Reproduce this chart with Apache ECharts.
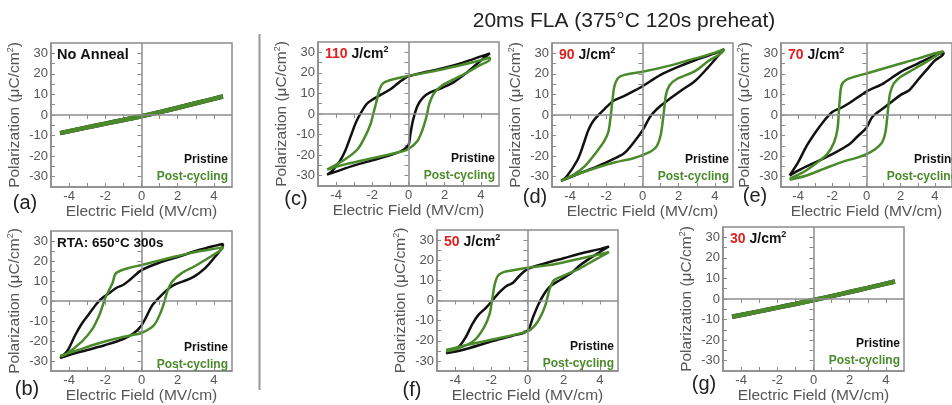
<!DOCTYPE html>
<html>
<head>
<meta charset="utf-8">
<script src="https://cdn.jsdelivr.net/npm/echarts@6/dist/echarts.min.js"></script>
<style>
html,body{margin:0;padding:0;background:#fff;}
#chart{width:952px;height:405px;}
</style>
</head>
<body>
<div id="chart"></div>
<script>
// tick values
var xLabels = [-4, -2, 0, 2, 4];
var xTicks = [-4, -3, -2, -1, 0, 1, 2, 3, 4];
var yLabels = [-30, -20, -10, 0, 10, 20, 30];
var yTicks = [-30, -25, -20, -15, -10, -5, 0, 5, 10, 15, 20, 25, 30];

// (a) no anneal - linear, both curves overlap
var aPristine = [[-4.5,-8.8],[-3,-6],[-2,-4.2],[-1,-2.4],[0,-0.6],[1,1.4],[2,3.5],[3,5.7],[4.5,9]];
var aPost = [[-4.5,-8.8],[-3,-6],[-2,-4.2],[-1,-2.4],[0,-0.6],[1,1.4],[2,3.5],[3,5.7],[4.5,9]];

// (b) RTA 650C 300s
var bPriLow = [[-4.5,-28.5],[-4,-27],[-3,-24.5],[-2,-22],[-1,-19],[-0.45,-16.3],[0,-12.2],[0.3,-7.3],[0.58,-2.4],[0.96,1.6],[1.43,5.7],[1.8,8.1],[2.3,9.8],[2.9,12.2],[3.5,16.3],[4.05,22],[4.5,28]];
var bPriUp = [[4.5,28.5],[4,27.5],[3,25],[2,22],[1,19.2],[0,15.4],[-0.64,10.6],[-1,8.1],[-1.4,6.5],[-1.77,4],[-2.15,1.6],[-2.5,-1.6],[-2.9,-6.5],[-3.3,-11.4],[-3.66,-17],[-4.1,-25],[-4.5,-28.5]];
var bPostLow = [[-4.5,-27.5],[-3.5,-24.5],[-2.5,-21.5],[-1.5,-19],[-0.5,-17],[0,-16],[0.68,-12.2],[1.06,-5.7],[1.25,-0.8],[1.43,4.9],[1.7,9.8],[2.2,13.8],[2.96,17.5],[4.07,23.6],[4.5,26.8]];
var bPostUp = [[4.5,27],[3,24.5],[2,22.5],[1,20.3],[0,18],[-0.7,16.5],[-1.2,15],[-1.45,13.5],[-1.6,9],[-1.96,2.4],[-2.15,-2.4],[-2.34,-7.3],[-2.7,-13.8],[-3.3,-20.3],[-4.2,-26.8],[-4.5,-27.6]];

// (c) 110 J/cm2
var cPriLow = [[-4.5,-29.5],[-4,-28],[-3,-25],[-2,-22.5],[-1,-20],[-0.4,-18],[0,-15],[0.1,-10],[0.25,-3],[0.5,4],[0.8,8],[1.2,10.5],[1.8,12.5],[2.5,15.5],[3.2,20],[4,26],[4.5,29.5]];
var cPriUp = [[4.5,29.5],[4,28],[3,25],[2,22.5],[1,20.5],[0,18.3],[-0.5,15.5],[-1,12],[-1.5,9.5],[-2,7],[-2.3,5],[-2.6,1],[-2.9,-4],[-3.2,-11],[-3.5,-18],[-3.8,-23],[-4.2,-27.5],[-4.5,-29.5]];
var cPostLow = [[-4.5,-27],[-3.5,-24.5],[-2.5,-22.5],[-1.5,-20.5],[-0.5,-18.5],[0,-17],[0.5,-13],[0.8,-7],[1,-1],[1.15,5],[1.4,10],[1.8,13.5],[2.3,16],[3,19],[4,24],[4.5,26.5]];
var cPostUp = [[4.5,27.5],[3.5,25],[2.5,23],[1.5,21],[0,18.5],[-1,16.5],[-1.4,15],[-1.6,12],[-1.8,5],[-1.95,0],[-2.1,-5],[-2.4,-11],[-2.8,-17],[-3.5,-22],[-4.5,-27]];

// (d) 90 J/cm2
var dPriLow = [[-4.5,-32],[-3.5,-28.5],[-2.5,-25],[-1.5,-21],[-1,-18.5],[-0.5,-13.5],[0,-7.5],[0.45,-0.5],[1,4.5],[1.6,8.5],[2.1,11.7],[2.9,16.5],[3.6,22.9],[4.1,28],[4.5,32]];
var dPriUp = [[4.5,32],[4,30],[3,27],[2,23.5],[1,19.5],[0,14],[-0.47,11.7],[-1,9.3],[-1.6,6.9],[-2.1,2.9],[-2.7,-2.7],[-3,-7.5],[-3.25,-14],[-3.6,-22],[-4.2,-30],[-4.5,-32]];
var dPostLow = [[-4.5,-32],[-3.5,-28.5],[-2.5,-25.5],[-1.5,-23],[-0.5,-21],[0,-19.5],[0.5,-17.5],[0.8,-15],[1,-10],[1.12,-3],[1.2,3],[1.3,10],[1.5,14.5],[1.9,17.5],[2.9,21.3],[3.6,26],[4.5,31.7]];
var dPostUp = [[4.5,32],[3.5,29],[2.5,26.5],[1.5,24],[0,21],[-1,19.5],[-1.35,18],[-1.55,14],[-1.65,8],[-1.75,0],[-1.88,-8],[-2.1,-12.5],[-2.5,-17.5],[-3.2,-25],[-3.8,-29],[-4.5,-32]];

// (e) 70 J/cm2
var ePriLow = [[-4.5,-29.5],[-4,-27],[-3,-23],[-2,-19],[-1,-14.2],[-0.5,-10.2],[0,-6.2],[0.3,-1.4],[0.6,1],[1,3.4],[1.5,6.6],[2,9.8],[2.5,12],[3,17],[3.5,21.8],[4,26.5],[4.5,29.8]];
var ePriUp = [[4.5,30.5],[4,29],[3,25],[2,21],[1,15.4],[0,11.4],[-1,5.8],[-1.5,3.4],[-2,1.5],[-2.5,-3],[-3,-8.6],[-3.5,-15],[-4,-23],[-4.5,-29.4]];
var ePostLow = [[-4.5,-31.5],[-3.5,-29.4],[-2.5,-26.2],[-1.5,-23],[-0.5,-20.6],[0,-19],[0.5,-16.6],[0.9,-13.4],[1.1,-8.6],[1.2,-2.2],[1.28,4.2],[1.38,10.6],[1.6,15.4],[2,18.6],[2.5,21],[3.5,25.8],[4.5,31]];
var ePostUp = [[4.5,31],[4,30],[3,27.4],[2,25],[1,22.6],[0,20.2],[-0.7,18.6],[-1.2,17],[-1.45,14.6],[-1.55,9],[-1.62,1],[-1.7,-7],[-1.9,-13.4],[-2.3,-19],[-3,-23.8],[-3.7,-27.8],[-4.5,-31]];

// (f) 50 J/cm2
var fPriLow = [[-4.5,-26.2],[-3.6,-24.6],[-2.1,-20.6],[-0.8,-17.4],[0,-15],[0.3,-8.4],[0.6,-2],[0.9,3],[1.25,7],[1.8,10.2],[2.4,13.5],[2.9,17.5],[3.7,22.4],[4.5,26.8]];
var fPriUp = [[4.5,26.5],[4,25.5],[3,23.5],[2,21],[1,18.5],[0,15.6],[-0.43,12.4],[-0.8,8.8],[-1.2,7],[-1.55,4],[-1.9,0.5],[-2.3,-3.7],[-2.7,-7],[-3.05,-11.7],[-3.4,-18],[-3.8,-23],[-4.5,-26.2]];
var fPostLow = [[-4.5,-24.6],[-3.4,-22.2],[-1.73,-19],[0,-15.3],[0.4,-12.5],[0.7,-8.4],[1,-2],[1.2,5],[1.45,10],[1.9,12],[2.9,16],[3.7,20],[4.5,24]];
var fPostUp = [[4.5,24],[3.5,22],[2.5,20],[1.5,18],[0,16.3],[-0.8,15],[-1.36,14],[-1.64,12.2],[-1.82,7.6],[-1.96,0],[-2.1,-6.9],[-2.4,-13.3],[-2.94,-19.8],[-3.8,-23.8],[-4.5,-25.2]];

// (g) 30 J/cm2 - linear
var gPristine = [[-4.5,-8.6],[-3,-6],[-2,-4.2],[-1,-2.4],[0,-0.5],[1,1.4],[2,3.4],[3,5.4],[4.5,8.5]];
var gPost = [[-4.5,-8.6],[-3,-6],[-2,-4.2],[-1,-2.4],[0,-0.5],[1,1.4],[2,3.4],[3,5.4],[4.5,8.5]];

var FONT = 'Liberation Sans, Arial, sans-serif';
var GREEN = '#4a8a2a';
var GRAY = '#8c8c8c';
var RED = '#e0201e';

var panels = [
    {left:51, top:43, pri:aPristine, post:aPost, lw:4.5, letter:'(a)', lx:25, ly:203, tag:'No Anneal', tagSize:14.5},
    {left:51, top:231, pri:bPriLow.concat(bPriUp), post:bPostLow.concat(bPostUp), lw:2.5, letter:'(b)', lx:27, ly:389, tag:'RTA: 650°C 300s', tagSize:13.5},
    {left:318, top:42, pri:cPriLow.concat(cPriUp), post:cPostLow.concat(cPostUp), lw:2.5, letter:'(c)', lx:296, ly:199, energy:'110'},
    {left:552, top:43, pri:dPriLow.concat(dPriUp), post:dPostLow.concat(dPostUp), lw:2.5, letter:'(d)', lx:535, ly:197, energy:'90'},
    {left:781, top:43, pri:ePriLow.concat(ePriUp), post:ePostLow.concat(ePostUp), lw:2.5, letter:'(e)', lx:755, ly:196, energy:'70'},
    {left:437, top:230, pri:fPriLow.concat(fPriUp), post:fPostLow.concat(fPostUp), lw:2.5, letter:'(f)', lx:412, ly:390, energy:'50'},
    {left:723, top:227, pri:gPristine, post:gPost, lw:4.5, letter:'(g)', lx:704, ly:384, energy:'30'}
];
var W = 181, H = 144;

var grids = [], xAxes = [], yAxes = [], series = [], graphics = [];

panels.forEach(function(p, i){
    grids.push({left:p.left, top:p.top, width:W, height:H, show:true, borderColor:GRAY, borderWidth:1.5, backgroundColor:'transparent'});
    xAxes.push({
        gridIndex:i, type:'value', min:-5, max:5, position:'bottom',
        name:'Electric Field (MV/cm)', nameLocation:'middle', nameGap:17,
        nameTextStyle:{fontFamily:FONT, fontSize:15.5, color:'#555'},
        axisLine:{show:true, onZero:false, lineStyle:{color:GRAY, width:1.5}},
        axisTick:{show:true, inside:true, length:4, customValues:xTicks, lineStyle:{color:GRAY, width:1}},
        axisLabel:{customValues:xLabels, fontFamily:FONT, fontSize:13, color:'#555', margin:3},
        splitLine:{show:false}
    });
    yAxes.push({
        gridIndex:i, type:'value', min:-35, max:35, position:'left',
        name:'Polarization (μC/cm{s|2})', nameLocation:'middle', nameGap:27,
        nameTextStyle:{fontFamily:FONT, fontSize:15.5, color:'#555', rich:{s:{fontFamily:FONT, fontSize:9, color:'#555', padding:[0,0,9,0]}}},
        axisLine:{show:true, onZero:false, lineStyle:{color:GRAY, width:1.5}},
        axisTick:{show:true, inside:true, length:4, customValues:yTicks, lineStyle:{color:GRAY, width:1}},
        axisLabel:{customValues:yLabels, fontFamily:FONT, fontSize:13, color:'#555', margin:3},
        splitLine:{show:false}
    });
});
// mirror axes for ticks on top and right
panels.forEach(function(p, i){
    xAxes.push({
        gridIndex:i, type:'value', min:-5, max:5, position:'top',
        axisLine:{show:false}, axisLabel:{show:false}, splitLine:{show:false},
        axisTick:{show:true, inside:true, length:4, customValues:xTicks, lineStyle:{color:GRAY, width:1}}
    });
    yAxes.push({
        gridIndex:i, type:'value', min:-35, max:35, position:'right',
        axisLine:{show:false}, axisLabel:{show:false}, splitLine:{show:false},
        axisTick:{show:true, inside:true, length:4, customValues:yTicks, lineStyle:{color:GRAY, width:1}}
    });
});

panels.forEach(function(p, i){
    series.push({
        type:'line', xAxisIndex:i, yAxisIndex:i, data:[], z:1, silent:true,
        markLine:{silent:true, symbol:['none','none'], label:{show:false}, animation:false,
            lineStyle:{color:GRAY, width:1.5, type:'solid'},
            data:[{xAxis:0}, {yAxis:0}]}
    });
    series.push({
        name:'Pristine', type:'line', xAxisIndex:i, yAxisIndex:i, data:p.pri, z:2,
        smooth:0.3, showSymbol:false, lineStyle:{color:'#111', width:p.lw}, itemStyle:{color:'#111'}
    });
    series.push({
        name:'Post-cycling', type:'line', xAxisIndex:i, yAxisIndex:i, data:p.post, z:3,
        smooth:0.3, showSymbol:false, lineStyle:{color:GREEN, width:p.lw}, itemStyle:{color:GREEN}
    });

    var rx = p.left + W - 4;
    graphics.push({type:'text', z:10, style:{text:'Pristine', x:rx, y:p.top+H-27, align:'right', verticalAlign:'middle', font:'bold 12px ' + FONT, fill:'#111'}});
    graphics.push({type:'text', z:10, style:{text:'Post-cycling', x:rx, y:p.top+H-10, align:'right', verticalAlign:'middle', font:'bold 12px ' + FONT, fill:GREEN}});
    graphics.push({type:'text', z:10, style:{text:p.letter, x:p.lx, y:p.ly, align:'center', verticalAlign:'middle', font:'20px ' + FONT, fill:'#222'}});
    if (p.tag) {
        graphics.push({type:'text', z:10, style:{text:p.tag, x:p.left+6, y:p.top+12, align:'left', verticalAlign:'middle', font:'bold ' + p.tagSize + 'px ' + FONT, fill:'#111'}});
    } else {
        graphics.push({type:'text', z:10, style:{
            text:'{r|' + p.energy + '} J/cm{s|2}', x:p.left+7, y:p.top+12, align:'left', verticalAlign:'middle',
            fontFamily:FONT, fontSize:14, fontWeight:'bold', fill:'#111',
            rich:{r:{fontFamily:FONT, fontSize:14, fontWeight:'bold', fill:RED, color:RED},
                  s:{fontFamily:FONT, fontSize:9, fontWeight:'bold', padding:[0,0,8,0]}}
        }});
    }
});

graphics.push({type:'text', style:{text:'20ms FLA (375°C 120s preheat)', x:624, y:21, align:'center', verticalAlign:'middle', font:'21px ' + FONT, fill:'#222'}});
graphics.push({type:'line', shape:{x1:259.5, y1:34, x2:259.5, y2:390}, style:{stroke:'#999', lineWidth:2}});

var chart = echarts.init(document.getElementById('chart'));
chart.setOption({
    animation:false,
    grid:grids,
    xAxis:xAxes,
    yAxis:yAxes,
    series:series,
    graphic:graphics
});
</script>
</body>
</html>
